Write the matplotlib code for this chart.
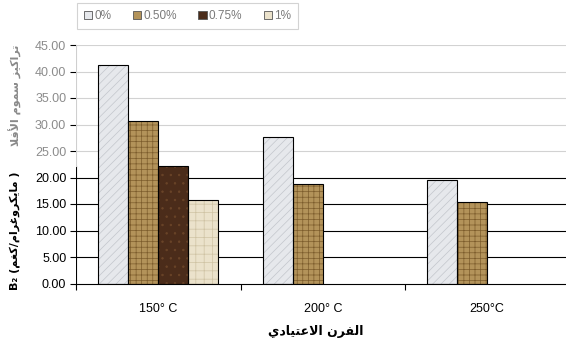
import numpy as np
import matplotlib
matplotlib.use("Agg")
import matplotlib.pyplot as plt
from matplotlib.patches import Patch

plt.rcParams['font.family'] = ['Liberation Sans', 'DejaVu Sans']
plt.rcParams['hatch.linewidth'] = 0.5

# data
temps = ['150° C', '200° C', '250°C']
levels = ['0%', '0.50%', '0.75%', '1%']
conc_0 = [41.3, 27.7, 19.5]
conc_050 = [30.7, 18.8, 15.3]
conc_075 = [22.1, np.nan, np.nan]
conc_1 = [15.7, np.nan, np.nan]

x_label = 'الفرن الاعتيادي'
y_label_low = '( مايكروغرام/كغم) B₂'
y_label_high = 'تراكيز سموم الأفلا'

# --- minimal arabic shaping (presentation forms) + right-to-left ordering ---
FORMS = {
    'ا': ('\ufe8d', '\ufe8e'), 'أ': ('\ufe83', '\ufe84'),
    'د': ('\ufea9', '\ufeaa'), 'ر': ('\ufead', '\ufeae'),
    'ز': ('\ufeaf', '\ufeb0'), 'و': ('\ufeed', '\ufeee'),
    'ت': ('\ufe95', '\ufe96', '\ufe97', '\ufe98'),
    'س': ('\ufeb1', '\ufeb2', '\ufeb3', '\ufeb4'),
    'ع': ('\ufec9', '\ufeca', '\ufecb', '\ufecc'),
    'غ': ('\ufecd', '\ufece', '\ufecf', '\ufed0'),
    'ف': ('\ufed1', '\ufed2', '\ufed3', '\ufed4'),
    'ك': ('\ufed9', '\ufeda', '\ufedb', '\ufedc'),
    'ل': ('\ufedd', '\ufede', '\ufedf', '\ufee0'),
    'م': ('\ufee1', '\ufee2', '\ufee3', '\ufee4'),
    'ن': ('\ufee5', '\ufee6', '\ufee7', '\ufee8'),
    'ي': ('\ufef1', '\ufef2', '\ufef3', '\ufef4'),
}
LAM_ALEF = {'ا': ('\ufefb', '\ufefc'), 'أ': ('\ufef7', '\ufef8')}
MIRROR = {'(': ')', ')': '('}


def shape_word(w):
    out = []
    i = 0
    while i < len(w):
        c = w[i]
        prev = w[i - 1] if i > 0 else ''
        joins_prev = prev in FORMS and len(FORMS[prev]) == 4
        if c == 'ل' and i + 1 < len(w) and w[i + 1] in LAM_ALEF:
            out.append(LAM_ALEF[w[i + 1]][1 if joins_prev else 0])
            i += 2
            continue
        if c not in FORMS:
            out.append(c)
            i += 1
            continue
        f = FORMS[c]
        nxt = w[i + 1] if i + 1 < len(w) else ''
        joins_next = len(f) == 4 and nxt in FORMS
        if joins_prev and joins_next:
            out.append(f[3])
        elif joins_prev:
            out.append(f[1])
        elif joins_next:
            out.append(f[2])
        else:
            out.append(f[0])
        i += 1
    return ''.join(out)


def rtl(text):
    vis = []
    for t in reversed(text.split(' ')):
        if any(ch in FORMS for ch in t) or not any(ch.isalnum() for ch in t):
            s = shape_word(t)
            vis.append(''.join(MIRROR.get(ch, ch) for ch in reversed(s)))
        else:
            vis.append(t)
    return ' '.join(vis)


W, H = 566, 347
fig = plt.figure(figsize=(W / 100, H / 100), dpi=100)
ax = fig.add_axes([76 / W, 63.5 / H, 490 / W, 238.5 / H])

x = np.arange(len(temps))
w = 0.182
series = [conc_0, conc_050, conc_075, conc_1]
faces = ['#e6e8ec', '#b3935a', '#4b2c1a', '#ebe2cb']
hatches = ['////', '+++', '..', '++']
hatch_cols = ['#c3c6cc', '#7c5c2c', '#6a4428', '#cfc3a4']

for i, vals in enumerate(series):
    pos = x + (i - 1.5) * w
    ax.bar(pos, vals, w, color=faces[i], hatch=hatches[i], edgecolor=hatch_cols[i],
           linewidth=0, zorder=2)
    ax.bar(pos, vals, w, fill=False, edgecolor='black', linewidth=0.8, zorder=3)

ax.set_xlim(-0.5, -0.5 + 490 / 164.5)
ax.set_ylim(0, 45)

# the upper part of the plot is washed out
fade = 22.2
yt = np.arange(0, 46, 5)
for v in yt[1:]:
    ax.axhline(v, color='black' if v < fade else '#d2d2d2', linewidth=0.8, zorder=1)

for s in ['top', 'right', 'left']:
    ax.spines[s].set_visible(False)
ax.spines['bottom'].set_linewidth(0.8)
ax.axvline(-0.5, 0, fade / 45, color='black', linewidth=0.8, zorder=4)
ax.axvline(-0.5, fade / 45, 1, color='#cfcfcf', linewidth=0.8, zorder=4)

ax.set_yticks(yt)
ax.set_yticklabels(['%.2f' % v for v in yt], fontsize=9)
ax.tick_params(axis='y', length=4, width=0.8, pad=3)
for v, tick in zip(yt, ax.yaxis.get_major_ticks()):
    if v > fade:
        tick.label1.set_color('#8c8c8c')
        tick.tick1line.set_color('#cfcfcf')

ax.set_xticks([-0.5, 0.5, 1.5])
ax.set_xticklabels([])
ax.tick_params(axis='x', which='major', length=4, width=0.8)
ax.set_xticks(x, minor=True)
ax.set_xticklabels(temps, minor=True, fontsize=9)
ax.tick_params(axis='x', which='minor', length=0, pad=14)

fig.text(316 / W, 1 - 332 / H, rtl(x_label), family=['DejaVu Sans'], weight='bold',
         fontsize=9, ha='center', va='center')
fig.text(15 / W, 1 - 290 / H, rtl(y_label_low), family=['DejaVu Sans'], weight='bold',
         fontsize=8, rotation=90, ha='center', va='bottom')
fig.text(15 / W, 1 - 45 / H, rtl(y_label_high), family=['DejaVu Sans'], weight='bold',
         fontsize=8, rotation=90, ha='center', va='top', color='#8a8a8a')

handles = [Patch(facecolor=faces[i], edgecolor='#555555', linewidth=0.6) for i in range(4)]
leg = fig.legend(handles, levels, loc='upper left', bbox_to_anchor=(77 / W, 1 - 3 / H),
                 borderaxespad=0, ncol=4, fontsize=8.5, frameon=True, fancybox=False,
                 handlelength=0.7, handleheight=0.7, handletextpad=0.2,
                 columnspacing=1.8, borderpad=0.6, labelcolor='#7a7a7a')
leg.get_frame().set_edgecolor('#c8c8c8')
leg.get_frame().set_linewidth(0.8)

fig.savefig('out.png', dpi=100)
